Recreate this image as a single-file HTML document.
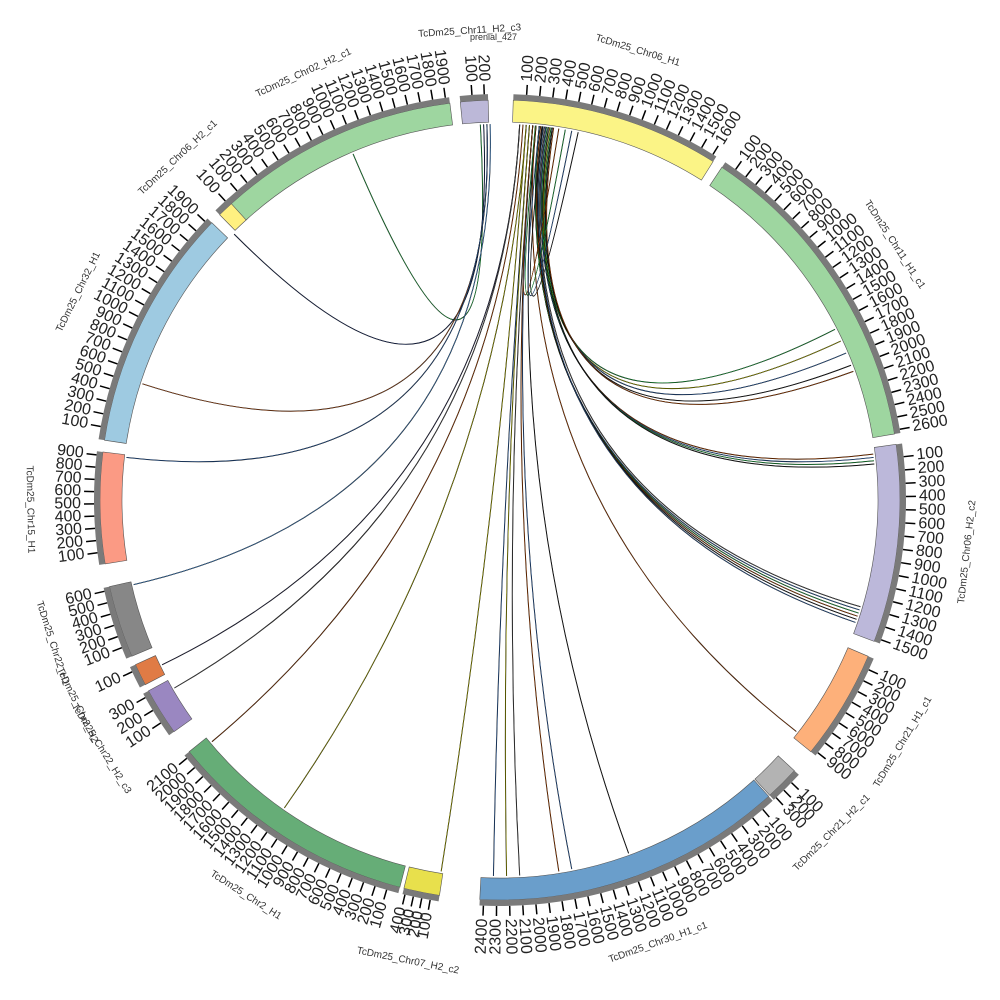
<!DOCTYPE html>
<html><head><meta charset="utf-8">
<style>
html,body{margin:0;padding:0;background:#fff;}
svg{display:block;}
text{font-family:"Liberation Sans",sans-serif;}
</style></head>
<body>
<svg id="s" width="1000" height="1000" viewBox="0 0 1000 1000" xmlns="http://www.w3.org/2000/svg">
<g id="links" fill="none"></g>
<g id="segs"></g>
<g id="ticks"></g>
<g id="labs" fill="#222"></g>
<g id="names" fill="#333" font-size="10">
<text x="470" y="40" font-size="9">prenial_427</text>
</g>
</svg>
<script>
const NS="http://www.w3.org/2000/svg",C=500,R1=378,R2=400;
function P(r,a){const t=a*Math.PI/180;return [C+r*Math.sin(t),C-r*Math.cos(t)];}
function arc(r1,r2,a,b){const p1=P(r2,a),p2=P(r2,b),p3=P(r1,b),p4=P(r1,a);const l=(b-a)>180?1:0;
return `M${p1} A${r2},${r2} 0 ${l} 1 ${p2} L${p3} A${r1},${r1} 0 ${l} 0 ${p4}Z`;}
function el(t,at,par){const e=document.createElementNS(NS,t);for(const k in at)e.setAttribute(k,at[k]);document.getElementById(par).appendChild(e);return e;}
const segs=[
[-5.7,-1.7,"#bcb8d8",200,"TcDm25_Chr11_H2_c3"],
[1.9,32.2,"#fbf486",1600,"TcDm25_Chr06_H1"],
[33.7,80.5,"#9ed6a0",2600,"TcDm25_Chr11_H1_c1"],
[82,110.7,"#bcb8da",1500,"TcDm25_Chr06_H2_c2"],
[113,129,"#fdb07a",900,"TcDm25_Chr21_H1_c1"],
[132.6,137.6,"#b3b3b3",300,"TcDm25_Chr21_H2_c1"],
[137.8,182.9,"#6a9ecb",2400,"TcDm25_Chr30_H1_c1"],
[188.7,193.9,"#e8e04c",400,"TcDm25_Chr07_H2_c2"],
[194.5,231,"#66ad77",2100,"TcDm25_Chr2_H1"],
[234.6,241.5,"#9a87c1",300,"TcDm25_Chr22_H2_c3"],
[242.5,245.7,"#e07b45",100,"TcDm25_Chr2_H2"],
[247,257.5,"#878787",600,"TcDm25_Chr22_H1"],
[260.8,276.9,"#fb9a84",900,"TcDm25_Chr15_H1"],
[278.6,313.9,"#9ecae1",1900,"TcDm25_Chr32_H1"],
[315.5,318,"#fff080",100,"TcDm25_Chr06_H2_c1"],
[317.8,352.8,"#9ed6a0",1900,"TcDm25_Chr02_H2_c1"]];
segs.forEach((s,i)=>{
 const [a,b,c,n,name]=s;
 el("path",{d:arc(R1,R2,a,b),fill:c,stroke:"#555","stroke-width":0.6},"segs");
 el("path",{d:arc(R2,R2+6,a,b),fill:"#7a7a7a"},"segs");
 const span=b-a,per=span/(n/100+0.3);
 for(let k=1;k*100<=n;k++){
  const ang=a+k*per;
  const p=P(R2+6,ang),q=P(R2+16,ang);
  el("line",{x1:p[0],y1:p[1],x2:q[0],y2:q[1],stroke:"#000","stroke-width":1.5},"ticks");
  const L=P(R2+19,ang);let rot,anch;
  const na=((ang%360)+360)%360;
  if(na<180){rot=na-90;anch="start";}else{rot=na+90;anch="end";}
  const t=el("text",{x:L[0],y:L[1],"font-size":16,"text-anchor":anch,"dominant-baseline":"middle",transform:`rotate(${rot} ${L[0]} ${L[1]})`},"labs");
  t.textContent=k*100;
 }
 const m=(a+b)/2,na=((m%360)+360)%360,N=P(470,m);
 const rot=(na>90&&na<270)?na-180:na;
 const t=el("text",{x:N[0],y:N[1],"text-anchor":"middle","dominant-baseline":"middle",transform:`rotate(${rot} ${N[0]} ${N[1]})`},"names");
 t.textContent=name;
});
const links=[[-3,337,"#2a4"],[-2.5,315,"#236"],[-2,288,"#a52"],[-2,276.5,"#36a"],[-1.5,257,"#48c"],[3,244,"#335"],[3,240,"#555"],[3.5,230,"#a40"],[4,215,"#aa0"],
[4,189,"#aa0"],[4.5,181,"#36a"],[4.5,179,"#aa0"],[5,177,"#555"],[5,171,"#a40"],[5,169,"#36a"],[5.5,160,"#222"],[5.5,128,"#a40"],
[6,107,"#36a"],[6,107.5,"#2a4"],[6.2,108,"#a40"],[6.4,108.5,"#222"],[6.6,109,"#36a"],[6.8,106.5,"#555"],[7,83,"#a40"],[7,83.5,"#36a"],[7.2,84,"#2a4"],[7.4,84.5,"#222"],
[7.6,65,"#aa0"],[7.8,63,"#2a4"],[8,67,"#36a"],[8,69,"#222"],[8.2,70,"#a40"],[5,9,"#a40"],[5.4,10,"#2a4"],[6,11,"#36a"],[6.5,12,"#222"]];
links.forEach(([a,b,c])=>{
 const p=P(376,a),q=P(376,b);
 const d=Math.abs(b-a);const f=d<30?0.1:0;const mid=(a+b)/2;const cp=P(376*f,mid);
 el("path",{d:`M${p} Q${cp} ${q}`,stroke:"#000","stroke-width":1.0},"links");
 el("path",{d:`M${p} Q${cp} ${q}`,stroke:c,"stroke-width":0.5},"links");
});
</script>
</body></html>
